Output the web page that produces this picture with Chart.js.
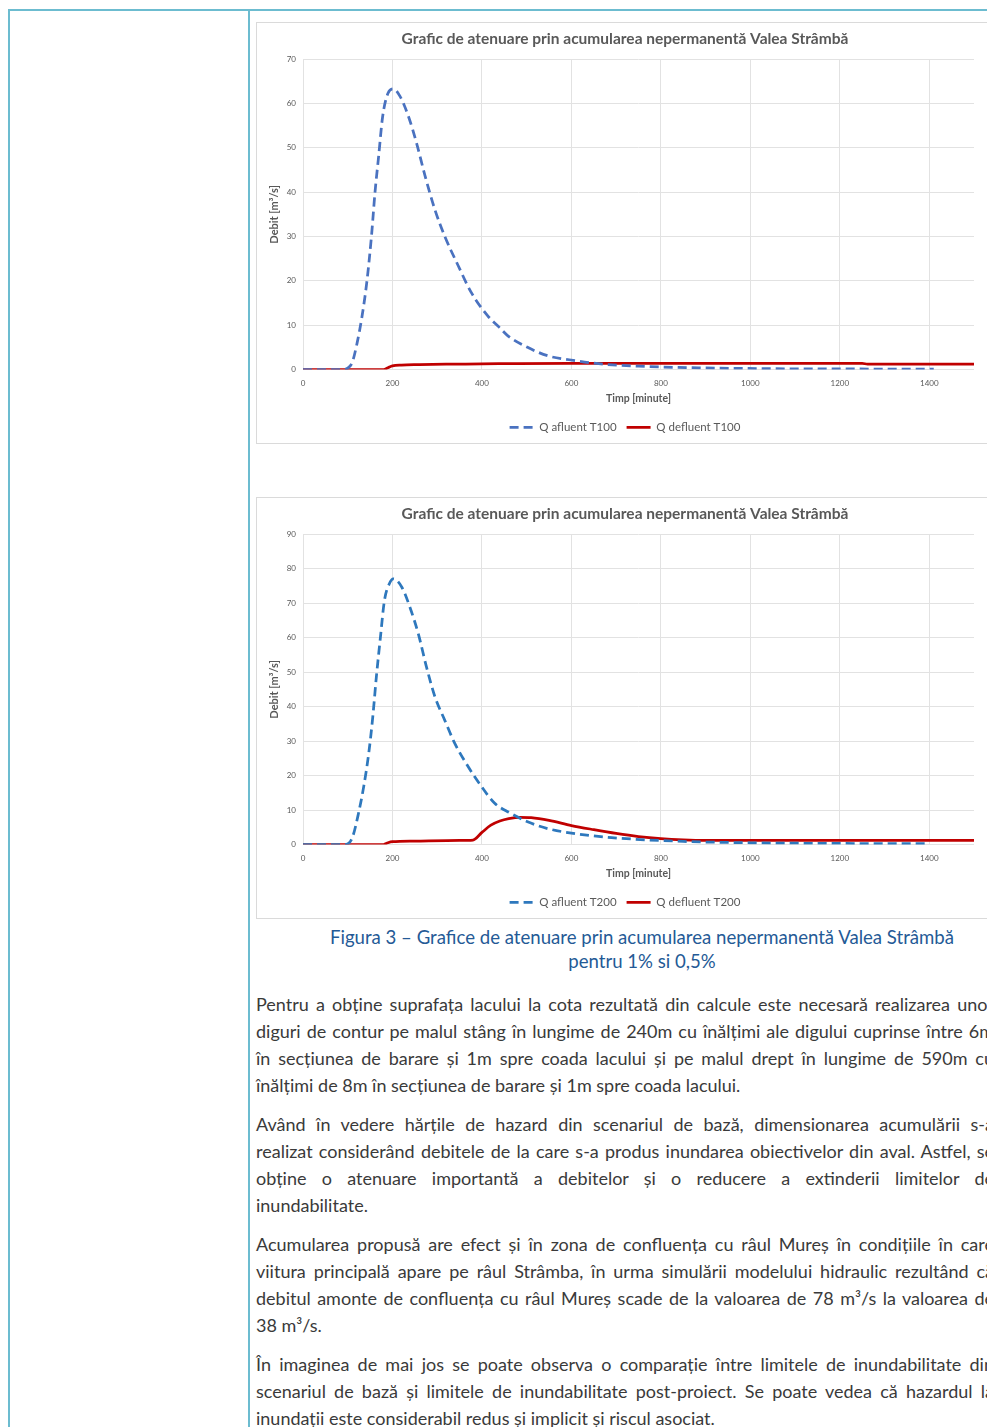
<!DOCTYPE html>
<html>
<head>
<meta charset="utf-8">
<script src="https://cdn.jsdelivr.net/npm/chart.js@4.4.0/dist/chart.umd.min.js"></script>
<style>
    body { margin: 0; width: 987px; height: 1427px; overflow: hidden; background: #fff; position: relative; font-family: Lato, "Open Sans", sans-serif; }
    .rule { position: absolute; background: #6cbcd0; }
    .box { position: absolute; left: 256px; width: 754px; height: 420px; border: 1px solid #dadada; background: #fff; }
    .box canvas { display: block; }
    .caption { position: absolute; left: 256px; width: 772px; top: 925px; text-align: center; color: #245a96; font-size: 18.6px; line-height: 24px; }
    .text { position: absolute; left: 256px; width: 738px; top: 991px; color: #3a3a3a; font-size: 18px; line-height: 27px; }
    .text p { margin: 0 0 12px 0; }
    .text span { display: block; height: 27px; white-space: nowrap; }
</style>
</head>
<body>

<!-- table borders -->
<div class="rule" style="left:8px; top:9px; width:979px; height:2px;"></div>
<div class="rule" style="left:8px; top:9px; width:2px; height:1418px;"></div>
<div class="rule" style="left:248px; top:9px; width:2px; height:1418px;"></div>

<div class="box" style="top:22px;"><canvas id="chartT100" width="754" height="420"></canvas></div>
<div class="box" style="top:497px;"><canvas id="chartT200" width="754" height="420"></canvas></div>

<div class="caption">Figura 3 – Grafice de atenuare prin acumularea nepermanentă Valea Strâmbă<br>pentru 1% si 0,5%</div>

<div class="text">
    <p>
        <span>Pentru a obține suprafața lacului la cota rezultată din calcule este necesară realizarea unor</span>
        <span>diguri de contur pe malul stâng în lungime de 240m cu înălțimi ale digului cuprinse între 6m</span>
        <span>în secțiunea de barare și 1m spre coada lacului și pe malul drept în lungime de 590m cu</span>
        <span class="last">înălțimi de 8m în secțiunea de barare și 1m spre coada lacului.</span>
    </p>
    <p>
        <span>Având în vedere hărțile de hazard din scenariul de bază, dimensionarea acumulării s-a</span>
        <span>realizat considerând debitele de la care s-a produs inundarea obiectivelor din aval. Astfel, se</span>
        <span>obține o atenuare importantă a debitelor și o reducere a extinderii limitelor de</span>
        <span class="last">inundabilitate.</span>
    </p>
    <p>
        <span>Acumularea propusă are efect și în zona de confluența cu râul Mureș în condițiile în care</span>
        <span>viitura principală apare pe râul Strâmba, în urma simulării modelului hidraulic rezultând că</span>
        <span>debitul amonte de confluența cu râul Mureș scade de la valoarea de 78 m³/s la valoarea de</span>
        <span class="last">38 m³/s.</span>
    </p>
    <p>
        <span>În imaginea de mai jos se poate observa o comparație între limitele de inundabilitate din</span>
        <span>scenariul de bază și limitele de inundabilitate post-proiect. Se poate vedea că hazardul la</span>
        <span class="last">inundații este considerabil redus și implicit și riscul asociat.</span>
    </p>
</div>

<script>

    let chartTitle = "Grafic de atenuare prin acumularea nepermanentă Valea Strâmbă";

    // T100 (1%) - inflow and outflow hydrographs, time in minutes, debit in m3/s
    let timeAfluentT100 = [0, 90, 100, 110, 121, 132, 143, 153, 161, 169, 178, 190, 202, 217, 236, 254, 273, 295, 317, 347, 376, 413, 439, 458, 502, 547, 595, 661, 750, 884, 1106, 1410];
    let qAfluentT100 = [0, 0, 0.3, 1.6, 6, 12, 20, 30, 40, 48, 57, 62.3, 63.3, 61.6, 57, 51, 43.6, 36, 30, 23.4, 17.4, 12.1, 9.5, 7.6, 5.0, 3.1, 2.2, 1.3, 0.75, 0.38, 0.15, 0.1];
    let timeDefluentT100 = [0, 180, 190, 200, 220, 260, 320, 400, 480, 600, 800, 1000, 1250, 1262, 1500];
    let qDefluentT100 = [0, 0, 0.4, 0.8, 1.0, 1.1, 1.2, 1.25, 1.35, 1.4, 1.4, 1.4, 1.4, 1.2, 1.2];

    // T200 (0.5%)
    let timeAfluentT200 = [0, 95, 110, 124, 136, 147, 156, 164, 173, 182, 193, 202, 221, 239, 258, 276, 295, 317, 339, 369, 399, 428, 462, 502, 547, 600, 690, 850, 1000, 1200, 1390];
    let qAfluentT200 = [0, 0, 1.9, 9, 17, 26.5, 37, 48.6, 60, 70.7, 75.6, 77, 74.6, 68.8, 61, 51.5, 42.8, 36, 29.4, 22.6, 16.8, 12, 9.2, 6.6, 4.6, 3.3, 2.0, 0.9, 0.5, 0.3, 0.25];
    let timeDefluentT200 = [0, 180, 190, 200, 250, 350, 380, 400, 420, 440, 460, 485, 510, 550, 600, 650, 700, 750, 800, 850, 900, 1500];
    let qDefluentT200 = [0, 0, 0.5, 0.8, 1.0, 1.2, 1.3, 3.5, 5.6, 6.8, 7.5, 7.9, 7.8, 7.0, 5.5, 4.3, 3.2, 2.3, 1.7, 1.35, 1.2, 1.2];

    let xMax = 1500;
    let xStep = 200;

    let gray = "#595959";

    function points(xs, ys) {
        return xs.map((x, i) => ({x: x, y: ys[i]}));
    }

    // legend samples: take dash and width from the dataset line, not from the points
    function legendLabels(chart) {
        let items = Chart.defaults.plugins.legend.labels.generateLabels(chart);
        return items.map((item, i) => {
            let ds = chart.data.datasets[i];
            item.lineDash = ds.borderDash || [];
            item.lineWidth = ds.borderWidth;
            item.strokeStyle = ds.borderColor;
            return item;
        });
    }

    // both charts share the same layout, only data and colours change
    function drawChart(id, yMax, blue, timeAfl, qAfl, timeDef, qDef, suffix) {
        new Chart(id, {
            type: "line",
            data: {
                datasets: [{
                    label: "Q afluent " + suffix,
                    data: points(timeAfl, qAfl),
                    borderColor: blue,
                    backgroundColor: blue,
                    borderWidth: 2.75,
                    borderDash: [9, 5],
                    pointRadius: 0,
                    pointStyle: "line",
                    cubicInterpolationMode: "monotone",
                    fill: false
                }, {
                    label: "Q defluent " + suffix,
                    data: points(timeDef, qDef),
                    borderColor: "#c00000",
                    backgroundColor: "#c00000",
                    borderWidth: 2.75,
                    pointRadius: 0,
                    pointStyle: "line",
                    cubicInterpolationMode: "monotone",
                    fill: false
                }]
            },
            options: {
                responsive: false,
                animation: false,
                // the box runs past the page edge; left/right padding centres title and legend like the original
                layout: {padding: {left: 19, right: 37, top: 0, bottom: 0}},
                plugins: {
                    title: {
                        display: true,
                        text: chartTitle,
                        color: gray,
                        font: {family: "Lato", size: 15.5, weight: "bold"},
                        padding: {top: 7, bottom: 10.5}
                    },
                    legend: {
                        position: "bottom",
                        labels: {
                            color: gray,
                            font: {family: "Lato", size: 11.5},
                            usePointStyle: true,
                            pointStyleWidth: 24,
                            boxHeight: 11,
                            padding: 10,
                            generateLabels: legendLabels
                        }
                    },
                    tooltip: {enabled: false}
                },
                scales: {
                    x: {
                        type: "linear",
                        min: 0,
                        max: xMax,
                        afterFit: s => { s.height = 42; },
                        border: {display: false},
                        grid: {color: "#e2e2e2", drawTicks: false},
                        ticks: {stepSize: xStep, includeBounds: false, color: gray, padding: 9, maxRotation: 0, font: {family: "Lato", size: 8}, callback: v => String(v)},
                        title: {display: true, text: "Timp [minute]", color: gray, font: {family: "Lato", size: 10.5, weight: "bold"}, padding: {top: 0, bottom: 7}}
                    },
                    y: {
                        min: 0,
                        max: yMax,
                        afterFit: s => { s.width = 27; },
                        border: {display: false},
                        grid: {color: "#e2e2e2", drawTicks: false},
                        ticks: {stepSize: 10, color: gray, padding: 7, font: {family: "Lato", size: 8}},
                        title: {display: true, text: "Debit [m³/s]", color: gray, font: {family: "Lato", size: 11, weight: "bold"}, padding: {top: -8.6, bottom: 0}}
                    }
                }
            }
        });
    }

    drawChart("chartT100", 70, "#4a72c0", timeAfluentT100, qAfluentT100, timeDefluentT100, qDefluentT100, "T100");
    drawChart("chartT200", 90, "#2e78bd", timeAfluentT200, qAfluentT200, timeDefluentT200, qDefluentT200, "T200");

    // justify the full lines of the text by spreading the word spacing
    let lineWidth = 738;
    document.querySelectorAll(".text span").forEach(span => {
        if (span.classList.contains("last")) return;
        span.style.display = "inline-block";
        let w = span.getBoundingClientRect().width;
        span.style.display = "block";
        let spaces = (span.textContent.match(/ /g) || []).length;
        if (spaces > 0) span.style.wordSpacing = ((lineWidth - w) / spaces) + "px";
    });

</script>
</body>
</html>
